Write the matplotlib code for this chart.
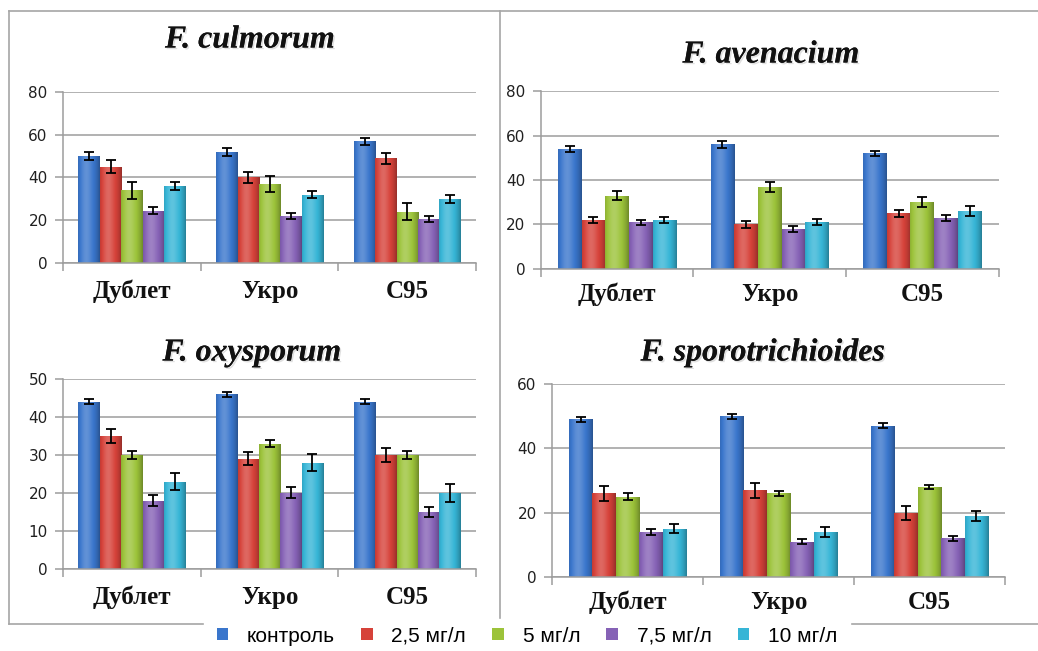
import numpy as np
import matplotlib
matplotlib.use("Agg")
import matplotlib.pyplot as plt
from matplotlib.colors import to_rgb
from matplotlib.lines import Line2D
from matplotlib.patches import Patch
import matplotlib.patheffects as pe

# ---- data -------------------------------------------------------------
cultivars = ["Дублет", "Укро", "С95"]
series = ["контроль", "2,5 мг/л", "5 мг/л", "7,5 мг/л", "10 мг/л"]
colors = ["#3a76cc", "#d6423a", "#9cc33a", "#8662b6", "#36b5d6"]

# values per series: [Дублет, Укро, С95]
culmorum_mean = [[50, 52, 57], [45, 40, 49], [34, 37, 24], [24.5, 22, 20.5], [36, 32, 30]]
culmorum_err = [[2, 1.8, 1.7], [3, 2.6, 2.5], [3.9, 3.6, 4], [1.5, 1.4, 1.5], [1.8, 1.7, 1.8]]

avenacium_mean = [[54, 56, 52], [22, 20, 25], [33, 37, 30], [21, 18, 23], [22, 21, 26]]
avenacium_err = [[1.5, 1.5, 1.1], [1.5, 1.5, 1.7], [2.2, 2.2, 2.3], [1.2, 1.5, 1.3], [1.3, 1.3, 2.2]]

oxysporum_mean = [[44, 46, 44], [35, 29, 30], [30, 33, 30], [18, 20, 15], [23, 28, 20]]
oxysporum_err = [[0.6, 0.65, 0.6], [1.8, 1.75, 1.8], [1.05, 1.0, 1.1], [1.45, 1.45, 1.4], [2.2, 2.2, 2.4]]

sporo_mean = [[49, 50, 47], [26, 27, 20], [25, 26, 28], [14, 11, 12], [15, 14, 19]]
sporo_err = [[0.8, 0.8, 0.8], [2.3, 2.3, 2.2], [1.0, 0.8, 0.7], [0.9, 0.8, 0.7], [1.45, 1.5, 1.5]]

panels = [
    dict(title="F. culmorum", mean=culmorum_mean, err=culmorum_err, ymax=80, step=20,
         rect=[0.0607, 0.596, 0.398, 0.2627], tx=250, ty=40, pad=12),
    dict(title="F. avenacium", mean=avenacium_mean, err=avenacium_err, ymax=80, step=20,
         rect=[0.521, 0.5868, 0.441, 0.2734], tx=771, ty=55, pad=10),
    dict(title="F. oxysporum", mean=oxysporum_mean, err=oxysporum_err, ymax=50, step=10,
         rect=[0.0607, 0.126, 0.398, 0.2919], tx=252, ty=353, pad=12),
    dict(title="F. sporotrichioides", mean=sporo_mean, err=sporo_err, ymax=60, step=20,
         rect=[0.5318, 0.1137, 0.4364, 0.2965], tx=763, ty=353, pad=10),
]

W, H = 1038, 651
GRID = "#9c9c9c"


def cylinder(color, n=64):
    """Horizontal shading strip that gives a bar a rounded, glossy look."""
    base = np.array(to_rgb(color))
    t = np.linspace(0, 1, n)
    light = 0.2 * np.exp(-((t - 0.38) / 0.25) ** 2) - 0.3 * (np.abs(t - 0.42) / 0.58) ** 3
    out = np.empty((1, n, 3))
    for i, l in enumerate(light):
        if l >= 0:
            out[0, i] = base + (1 - base) * l
        else:
            out[0, i] = base * (1 + l)
    return np.clip(out, 0, 1)


fig = plt.figure(figsize=(W / 100, H / 100), dpi=100)
fig.patch.set_facecolor("white")

x = np.arange(len(cultivars)) + 0.5
bw = 0.155

for p in panels:
    ax = fig.add_axes(p["rect"])
    for i, (m, e, c) in enumerate(zip(p["mean"], p["err"], colors)):
        bars = ax.bar(x + (i - 2) * bw, m, width=bw, color=c, linewidth=0, zorder=2)
        shade = cylinder(c)
        for patch in bars:
            bx, by = patch.get_x(), patch.get_y()
            bwid, bh = patch.get_width(), patch.get_height()
            im = ax.imshow(shade, extent=[bx, bx + bwid, by, by + bh], aspect="auto",
                           interpolation="bilinear", zorder=2.5)
            im.set_clip_path(patch)
        ax.errorbar(x + (i - 2) * bw, m, yerr=e, fmt="none", ecolor="black",
                    elinewidth=1.3, capsize=3.5, capthick=1.3, zorder=3)

    ax.set_xlim(0, 3)
    ax.set_ylim(0, p["ymax"])
    ax.set_yticks(np.arange(0, p["ymax"] + 1, p["step"]))
    ax.yaxis.grid(True, color=GRID, linewidth=1.1, zorder=0)
    ax.set_axisbelow(True)

    ax.set_xticks([0, 1, 2, 3])
    ax.set_xticklabels([])
    ax.set_xticks(x, minor=True)
    ax.set_xticklabels(cultivars, minor=True, fontsize=18, fontweight="bold",
                       family="Liberation Serif", color="#111111")
    ax.tick_params(axis="x", which="major", length=6, color=GRID, width=1.1, direction="out")
    ax.tick_params(axis="x", which="minor", length=0, pad=p["pad"])
    ax.tick_params(axis="y", length=6, color=GRID, width=1.1, pad=5, labelsize=11,
                   labelcolor="#202020")
    for lbl in ax.get_yticklabels():
        lbl.set_family("DejaVu Sans")

    for s in ("top", "right"):
        ax.spines[s].set_visible(False)
    for s in ("left", "bottom"):
        ax.spines[s].set_color(GRID)
        ax.spines[s].set_linewidth(1.1)

    fig.text(p["tx"] / W, 1 - p["ty"] / H, p["title"], ha="center", va="center",
             fontsize=23, fontweight="bold", fontstyle="italic", family="Liberation Serif",
             color="#111111",
             path_effects=[pe.withSimplePatchShadow(offset=(1.2, -1.2), shadow_rgbFace="#9a9a9a",
                                                    alpha=0.3), pe.Normal()])

# frame around the panels
frame = dict(color="#a6a6a6", linewidth=1.2)


def fline(x0, y0, x1, y1):
    fig.add_artist(Line2D([x0 / W, x1 / W], [1 - y0 / H, 1 - y1 / H], **frame))


fline(9, 11, W, 11)
fline(9, 11, 9, 624)
fline(9, 624, 203, 624)
fline(852, 624, W, 624)
fline(500, 11, 500, 618)

handles = [Patch(facecolor=c, edgecolor="none") for c in colors]
fig.legend(handles, series, loc="center", bbox_to_anchor=(527 / W, 1 - 636 / H), ncol=5,
           frameon=False, prop={"family": "Liberation Sans", "size": 15},
           handlelength=0.56, handleheight=0.56, handletextpad=0.9, columnspacing=1.25,
           borderpad=0.2)

fig.savefig("out.png", dpi=100, facecolor="white")
